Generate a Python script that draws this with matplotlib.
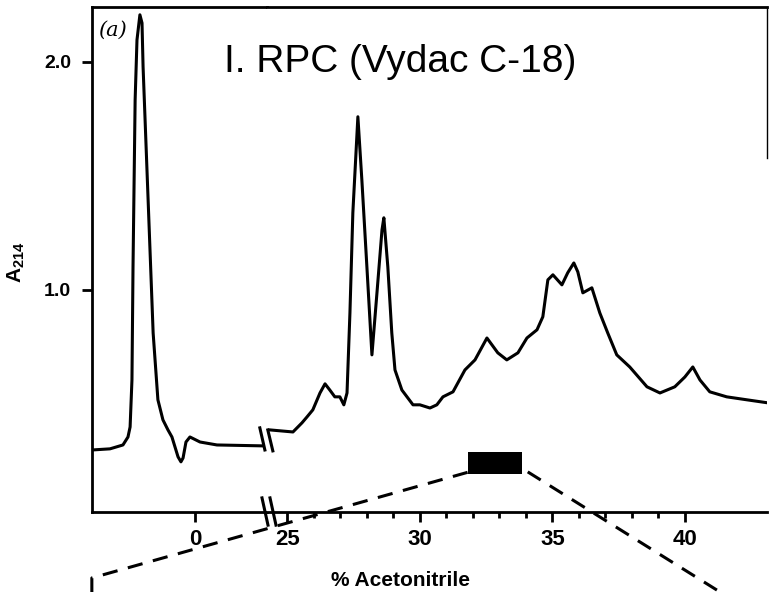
import matplotlib
matplotlib.use('Agg')  # headless
import matplotlib.pyplot as plt

plt.rcParams['font.family'] = ['Liberation Sans', 'DejaVu Sans']
plt.rcParams['mathtext.fontset'] = 'custom'
plt.rcParams['mathtext.bf'] = 'Liberation Sans:bold'

# Injection part of the run (left of the axis break)
left_pct = [-3.89, -3.21, -2.72, -2.53, -2.45, -2.38, -2.34, -2.26, -2.19, -2.08,
            -2.00, -1.96, -1.77, -1.58, -1.40, -1.21, -1.02, -0.87, -0.64, -0.53,
            -0.45, -0.34, -0.19, 0.19, 0.83, 2.57]
left_a214 = [0.298, 0.303, 0.320, 0.355, 0.399, 0.605, 1.10, 1.833, 2.096, 2.206,
             2.17, 1.978, 1.395, 0.811, 0.518, 0.430, 0.386, 0.355, 0.268, 0.246,
             0.263, 0.333, 0.355, 0.333, 0.320, 0.316]

# Gradient part (% acetonitrile)
right_pct = [24.34, 25.21, 25.55, 25.74, 25.96, 26.23, 26.42, 26.60, 26.79, 26.98,
             27.13, 27.25, 27.36, 27.47, 27.66, 27.81, 28.00, 28.19, 28.38, 28.57,
             28.64, 28.79, 28.94, 29.06, 29.32, 29.74, 30.00, 30.38, 30.64, 30.87,
             31.25, 31.70, 32.08, 32.53, 32.94, 33.28, 33.70, 34.04, 34.42, 34.64,
             34.83, 35.02, 35.36, 35.58, 35.81, 35.96, 36.15, 36.49, 36.79, 37.09,
             37.43, 37.92, 38.57, 39.06, 39.62, 40.00, 40.30, 40.57, 40.94, 41.58,
             42.34, 43.17]
right_a214 = [0.386, 0.377, 0.417, 0.443, 0.474, 0.548, 0.588, 0.561, 0.531, 0.531,
              0.496, 0.548, 0.899, 1.338, 1.759, 1.482, 1.101, 0.715, 0.987, 1.263,
              1.316, 1.101, 0.811, 0.649, 0.561, 0.496, 0.496, 0.482, 0.496, 0.531,
              0.553, 0.649, 0.693, 0.789, 0.724, 0.693, 0.724, 0.789, 0.825, 0.882,
              1.044, 1.066, 1.022, 1.075, 1.118, 1.079, 0.987, 1.009, 0.899, 0.811,
              0.715, 0.662, 0.575, 0.548, 0.575, 0.618, 0.662, 0.605, 0.553, 0.531,
              0.518, 0.504]

# collected fraction (black bar) and the dashed "zoom" lines under it
frac_pct = [31.8, 33.85]
frac_a214 = [0.193, 0.289]
zoom_left_pct = [31.8, 17.62, 17.62]
zoom_left_a214 = [0.20, -0.263, -0.34]
zoom_right_pct = [34.07, 41.4]
zoom_right_a214 = [0.202, -0.33]

ylo, yhi = 0.026, 2.24
lw = 2.2

fig = plt.figure(figsize=(7.69, 5.92), dpi=100)
axL = fig.add_axes([0.1196, 0.1351, 0.2276, 0.853])
axR = fig.add_axes([0.3472, 0.1351, 0.6502, 0.853])

axL.plot(left_pct, left_a214, color='black', lw=lw, solid_joinstyle='round')
axR.plot(right_pct, right_a214, color='black', lw=lw, solid_joinstyle='round')

axL.set_xlim(-3.89, 2.72)
axR.set_xlim(24.23, 43.1)
for ax in (axL, axR):
    ax.set_ylim(ylo, yhi)
    for s in ax.spines.values():
        s.set_linewidth(2.0)

axL.spines['right'].set_visible(False)
axR.spines['left'].set_visible(False)
axR.spines['right'].set_linewidth(1.0)
axR.spines['right'].set_bounds(1.58, yhi)

axL.set_yticks([1.0, 2.0])
axL.set_yticklabels(['1.0', '2.0'], fontsize=14, fontweight='bold')
axL.tick_params(axis='y', direction='out', length=7, width=2, pad=8)
axR.tick_params(axis='y', left=False, labelleft=False)

axL.set_xticks([0])
axL.set_xticklabels(['0'], fontsize=16, fontweight='bold')
axR.set_xticks([25, 30, 35, 40])
axR.set_xticklabels(['25', '30', '35', '40'], fontsize=16, fontweight='bold')
axR.set_xticks([m for m in range(26, 40) if m % 5], minor=True)
for ax in (axL, axR):
    ax.tick_params(axis='x', which='major', direction='out', length=7, width=2, pad=5)
    ax.tick_params(axis='x', which='minor', direction='out', length=4, width=2)

# fraction bar and dashed lines
axR.fill_between(frac_pct, frac_a214[0], frac_a214[1], color='black', lw=0)
axR.plot(zoom_left_pct, zoom_left_a214, color='black', lw=lw,
         linestyle=(0, (5, 3.5)), clip_on=False)
axR.plot(zoom_right_pct, zoom_right_a214, color='black', lw=lw,
         linestyle=(0, (5, 3.5)), clip_on=False)

# break marks on the trace and on the x axis
axR.plot([23.96, 24.15], [0.395, 0.298], color='black', lw=lw, clip_on=False)
axR.plot([24.26, 24.45], [0.386, 0.294], color='black', lw=lw, clip_on=False)
axR.plot([-0.01, 0.002], [0.028, -0.026], transform=axR.transAxes,
         color='black', lw=lw, clip_on=False)
axR.plot([0.006, 0.018], [0.028, -0.026], transform=axR.transAxes,
         color='black', lw=lw, clip_on=False)

fig.text(400 / 769, 1 - 62 / 592, 'I. RPC (Vydac C-18)', ha='center', va='center',
         fontsize=28)
fig.text(112 / 769, 1 - 30 / 592, '(a)', ha='center', va='center', fontsize=15,
         style='italic', family='DejaVu Serif')
fig.text(400 / 769, 1 - 580 / 592, '% Acetonitrile', ha='center', va='center',
         fontsize=15, fontweight='bold')
fig.text(16 / 769, 1 - 262 / 592, r'$\mathbf{A}_{\mathbf{214}}$', ha='center',
         va='center', rotation=90, fontsize=15)

fig.savefig('out.png', dpi=100)
